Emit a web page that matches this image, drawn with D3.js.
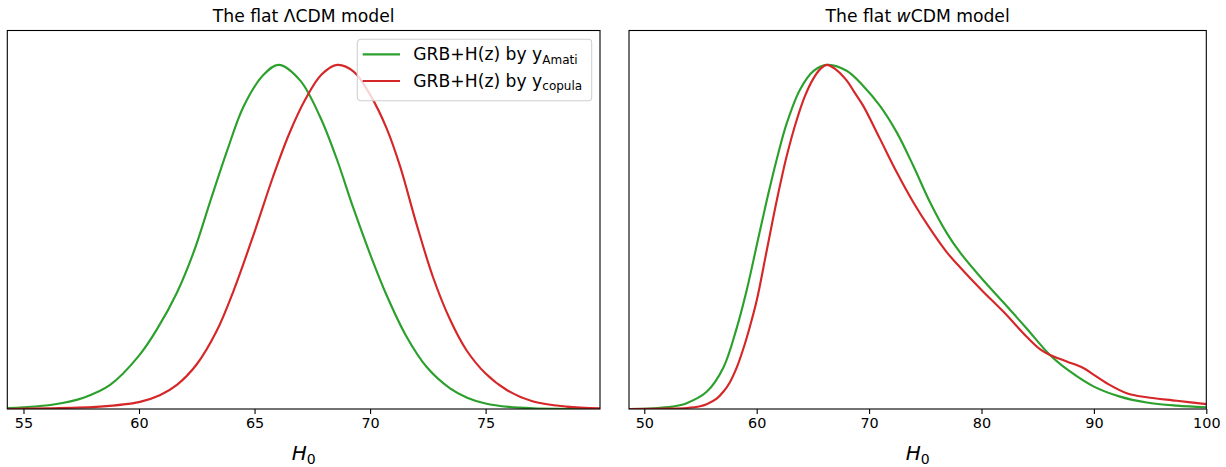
<!DOCTYPE html>
<html>
<head>
<meta charset="utf-8">
<script src="https://cdn.jsdelivr.net/npm/d3@7"></script>
<style>
  body { margin: 0; background: #fff; }
  svg { display: block; font-family: "DejaVu Sans", sans-serif; }
</style>
</head>
<body>
<script>
// H0 grid and normalised posterior
const lcdmAmatiH = [54.3, 55, 56.3, 57.6, 58.75, 60, 60.78, 61.64, 62.36, 63.09, 63.81, 64.53, 65.4, 66.05, 66.97, 67.83, 68.55, 69.27, 70.03, 70.72, 71.58, 72.45, 73.46, 74.2, 75, 76, 77.06, 79.95];
const lcdmAmatiP = [0.003, 0.005, 0.013, 0.033, 0.07, 0.155, 0.232, 0.338, 0.455, 0.605, 0.75, 0.88, 0.972, 1.0, 0.955, 0.85, 0.728, 0.585, 0.445, 0.33, 0.21, 0.122, 0.06, 0.033, 0.016, 0.006, 0.002, 0.0];

const lcdmCopulaH = [54.3, 56, 58.3, 60, 60.9, 61.64, 62.5, 63.37, 64.1, 65, 65.8, 66.5, 67.2, 67.9, 68.58, 69.3, 70.03, 70.72, 71.3, 72.02, 72.74, 73.46, 74.18, 75, 75.9, 77.06, 78.5, 79.95];
const lcdmCopulaP = [0.0, 0.002, 0.007, 0.02, 0.04, 0.07, 0.13, 0.228, 0.345, 0.515, 0.675, 0.8, 0.9, 0.972, 1.0, 0.98, 0.91, 0.815, 0.705, 0.535, 0.38, 0.26, 0.17, 0.103, 0.056, 0.022, 0.007, 0.002];

const wcdmAmatiH = [48.64, 50.8, 52.5, 53.77, 55.55, 57.03, 58.22, 59.11, 60, 60.89, 61.78, 62.67, 63.85, 65.04, 66.3, 68, 69.48, 70.97, 72.46, 73.93, 75.42, 76.9, 78.09, 80, 81.94, 84.02, 86.09, 87.87, 90, 92.32, 94.7, 97.37, 100];
const wcdmAmatiP = [0.0, 0.002, 0.007, 0.017, 0.05, 0.12, 0.235, 0.345, 0.475, 0.605, 0.725, 0.83, 0.928, 0.982, 1.0, 0.983, 0.939, 0.881, 0.804, 0.707, 0.601, 0.512, 0.455, 0.38, 0.31, 0.234, 0.157, 0.109, 0.065, 0.036, 0.019, 0.01, 0.005];

const wcdmCopulaH = [48.64, 52, 53.77, 54.96, 55.55, 56.44, 57.03, 57.62, 58.22, 58.81, 59.4, 60, 60.89, 61.78, 62.67, 63.56, 64.3, 65.04, 65.63, 66.23, 67, 68, 68.7, 69.48, 70.97, 72.46, 73.93, 75.42, 76.9, 78.09, 80, 81.94, 84.02, 85.2, 86.09, 87.58, 89.06, 90, 91.14, 92.92, 94.7, 97.37, 100];
const wcdmCopulaP = [0.0, 0.001, 0.003, 0.008, 0.014, 0.03, 0.05, 0.078, 0.12, 0.175, 0.24, 0.315, 0.46, 0.605, 0.735, 0.84, 0.91, 0.96, 0.987, 1.0, 0.988, 0.955, 0.92, 0.881, 0.785, 0.688, 0.601, 0.524, 0.456, 0.412, 0.346, 0.283, 0.21, 0.174, 0.157, 0.138, 0.119, 0.099, 0.075, 0.046, 0.034, 0.024, 0.014];

const lcdmTicks = [55, 60, 65, 70, 75];
const wcdmTicks = [50, 60, 70, 80, 90, 100];
const lcdmLimits = [54.3, 79.95];
const wcdmLimits = [48.64, 100];
const yLimits = [0, 1.1];

const seriesNames = ["Amati", "copula"];
const colors = ["#2ca02c", "#d62728"];

const width = 1226;
const height = 467;
const plotTop = 30.5;
const plotBottom = 409;

const svg = d3
  .select("body")
  .append("svg")
  .attr("width", width)
  .attr("height", height)
  .attr("viewBox", [0, 0, width, height]);

svg.append("rect").attr("width", width).attr("height", height).attr("fill", "#fff");

const y = d3.scaleLinear(yLimits, [plotBottom, plotTop]);

function zip(hs, ps) {
  return hs.map((h, i) => ({ h: h, p: ps[i] }));
}

function drawPanel(id, left, right, limits, ticks, series, titleParts) {
  const x = d3.scaleLinear(limits, [left, right]);
  const g = svg.append("g");

  g.append("clipPath")
    .attr("id", id)
    .append("rect")
    .attr("x", left)
    .attr("y", plotTop)
    .attr("width", right - left)
    .attr("height", plotBottom - plotTop);

  const line = d3
    .line()
    .x((d) => x(d.h))
    .y((d) => y(d.p))
    .curve(d3.curveCatmullRom.alpha(0.5));

  g.append("g")
    .attr("clip-path", `url(#${id})`)
    .selectAll("path")
    .data(series)
    .join("path")
    .attr("fill", "none")
    .attr("stroke", (d, i) => colors[i])
    .attr("stroke-width", 2.15)
    .attr("stroke-linejoin", "round")
    .attr("d", (d) => line(d));

  const axis = g
    .append("g")
    .attr("transform", `translate(0,${plotBottom})`)
    .call(d3.axisBottom(x).tickValues(ticks).tickSize(5).tickPadding(4).tickFormat(d3.format("d")));
  axis.select(".domain").remove();
  axis.selectAll(".tick line").attr("stroke", "#000").attr("stroke-width", 1.1);
  axis
    .selectAll(".tick text")
    .attr("fill", "#000")
    .attr("font-size", 14.4)
    .attr("font-family", "DejaVu Sans, sans-serif");

  g.append("rect")
    .attr("x", left)
    .attr("y", plotTop)
    .attr("width", right - left)
    .attr("height", plotBottom - plotTop)
    .attr("fill", "none")
    .attr("stroke", "#000")
    .attr("stroke-width", 1.1);

  const title = g
    .append("text")
    .attr("x", (left + right) / 2)
    .attr("y", 21.5)
    .attr("text-anchor", "middle")
    .attr("font-size", 17.2);
  titleParts.forEach((t) => {
    title.append("tspan").attr("font-style", t.italic ? "italic" : "normal").text(t.s);
  });

  const xlabel = g
    .append("text")
    .attr("x", (left + right) / 2)
    .attr("y", 460)
    .attr("text-anchor", "middle")
    .attr("font-size", 20);
  xlabel.append("tspan").attr("font-style", "italic").text("H");
  xlabel.append("tspan").attr("font-size", 14).attr("dy", 3.5).text("0");

  return g;
}

drawPanel(
  "clipL",
  7.3,
  600,
  lcdmLimits,
  lcdmTicks,
  [zip(lcdmAmatiH, lcdmAmatiP), zip(lcdmCopulaH, lcdmCopulaP)],
  [{ s: "The flat \u039BCDM model" }]
);

drawPanel(
  "clipR",
  629,
  1206.3,
  wcdmLimits,
  wcdmTicks,
  [zip(wcdmAmatiH, wcdmAmatiP), zip(wcdmCopulaH, wcdmCopulaP)],
  [{ s: "The flat " }, { s: "w", italic: true }, { s: "CDM model" }]
);

// legend, upper right of the left panel
const legend = svg.append("g").attr("transform", "translate(357.3,39.3)");
legend
  .append("rect")
  .attr("width", 234.4)
  .attr("height", 61.4)
  .attr("rx", 3.5)
  .attr("fill", "#fff")
  .attr("fill-opacity", 0.8)
  .attr("stroke", "#d0d0d0")
  .attr("stroke-width", 1.1);

const item = legend
  .selectAll("g.item")
  .data(seriesNames)
  .join("g")
  .attr("class", "item")
  .attr("transform", (d, i) => `translate(0,${15 + i * 26.7})`);

item
  .append("line")
  .attr("x1", 5.4)
  .attr("x2", 42.7)
  .attr("stroke", (d, i) => colors[i])
  .attr("stroke-width", 2.15);

const label = item
  .append("text")
  .attr("x", 56)
  .attr("y", 6)
  .attr("font-size", 17.2)
  .attr("fill", "#000");
label.append("tspan").text("GRB+H(z) by y");
label.append("tspan").attr("font-size", 12).attr("dy", 3.3).text((d) => d);
</script>
</body>
</html>
